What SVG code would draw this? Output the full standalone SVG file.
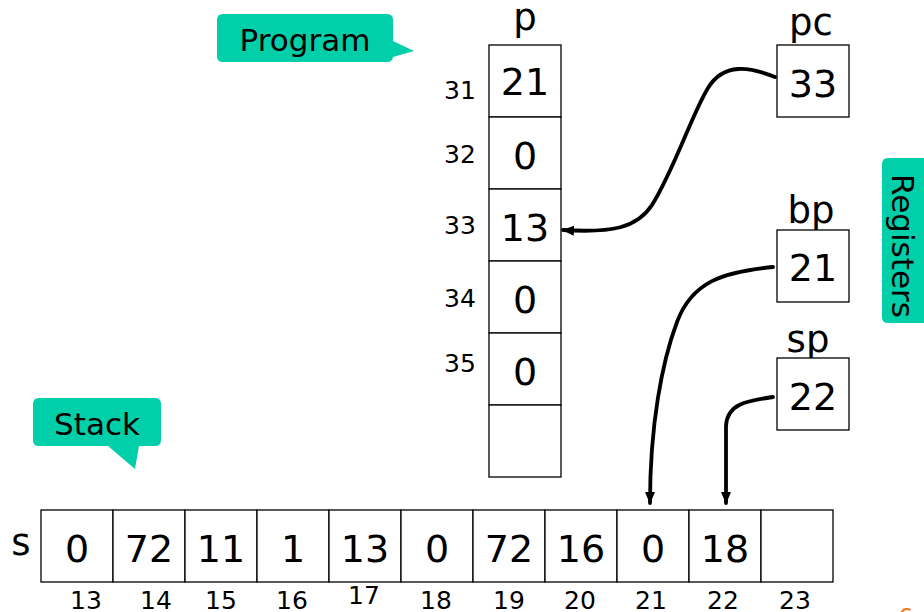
<svg xmlns="http://www.w3.org/2000/svg" width="924" height="612" viewBox="0 0 924 612">
  <style>
    text { font-family: "DejaVu Sans", Verdana, sans-serif; fill: #000; }
    .cell { fill: #fff; stroke: #000; stroke-width: 1.3; }
    .val { font-size: 38px; text-anchor: middle; }
    .name { font-size: 37px; text-anchor: middle; }
    .idx { font-size: 25px; text-anchor: middle; }
    .callout { fill: #00CFA9; }
    .ctext { font-size: 31px; text-anchor: middle; }
    .wire { fill: none; stroke: #000; stroke-width: 3.8; stroke-linecap: round; }
  </style>
  <defs>
    <marker id="head" viewBox="0 0 12 10" refX="11" refY="5" markerWidth="12" markerHeight="10" markerUnits="userSpaceOnUse" orient="auto">
      <path d="M0,0 L12,5 L0,10 Z" fill="#000"/>
    </marker>
  </defs>
  <rect width="924" height="612" fill="#fff"/>

  <!-- callouts -->
  <g id="program-callout">
    <path class="callout" d="M223,14 H387 Q393,14 393,20 V41 L414,51 L393,57 V56 Q393,62 387,62 H223 Q217,62 217,56 V20 Q217,14 223,14 Z"/>
    <text class="ctext" x="305" y="51">Program</text>
  </g>
  <g id="stack-callout">
    <path class="callout" d="M39,398 H155 Q161,398 161,404 V440 Q161,446 155,446 H139 L135,469 L108,446 H39 Q33,446 33,440 V404 Q33,398 39,398 Z"/>
    <text class="ctext" x="97" y="435">Stack</text>
  </g>
  <g id="registers-callout">
    <path class="callout" d="M888,158 H930 V323 H888 Q882,323 882,317 V164 Q882,158 888,158 Z"/>
    <text class="ctext" transform="translate(892,246) rotate(90)" x="0" y="0">Registers</text>
  </g>

  <!-- program memory p -->
  <g id="program-memory">
    <text class="name" x="525" y="30">p</text>
    <rect class="cell" x="489" y="45" width="72" height="72"/>
    <rect class="cell" x="489" y="117" width="72" height="72"/>
    <rect class="cell" x="489" y="189" width="72" height="72"/>
    <rect class="cell" x="489" y="261" width="72" height="72"/>
    <rect class="cell" x="489" y="333" width="72" height="72"/>
    <rect class="cell" x="489" y="405" width="72" height="72"/>
    <text class="val" x="525" y="95">21</text>
    <text class="val" x="525" y="169">0</text>
    <text class="val" x="525" y="241">13</text>
    <text class="val" x="525" y="313">0</text>
    <text class="val" x="525" y="385">0</text>
    <text class="idx" x="460" y="99">31</text>
    <text class="idx" x="460" y="163">32</text>
    <text class="idx" x="460" y="234">33</text>
    <text class="idx" x="460" y="307">34</text>
    <text class="idx" x="460" y="372">35</text>
  </g>

  <!-- registers -->
  <g id="reg-pc">
    <text class="name" x="811" y="35">pc</text>
    <rect class="cell" x="777" y="45" width="72" height="72"/>
    <text class="val" x="813" y="97">33</text>
  </g>
  <g id="reg-bp">
    <text class="name" x="811" y="223">bp</text>
    <rect class="cell" x="777" y="230" width="72" height="72"/>
    <text class="val" x="813" y="281">21</text>
  </g>
  <g id="reg-sp">
    <text class="name" x="808" y="352">sp</text>
    <rect class="cell" x="777" y="358" width="72" height="72"/>
    <text class="val" x="813" y="410">22</text>
  </g>

  <!-- stack s -->
  <g id="stack">
    <text class="name" x="21" y="555">s</text>
    <rect class="cell" x="41" y="510" width="72" height="72"/>
    <rect class="cell" x="113" y="510" width="72" height="72"/>
    <rect class="cell" x="185" y="510" width="72" height="72"/>
    <rect class="cell" x="257" y="510" width="72" height="72"/>
    <rect class="cell" x="329" y="510" width="72" height="72"/>
    <rect class="cell" x="401" y="510" width="72" height="72"/>
    <rect class="cell" x="473" y="510" width="72" height="72"/>
    <rect class="cell" x="545" y="510" width="72" height="72"/>
    <rect class="cell" x="617" y="510" width="72" height="72"/>
    <rect class="cell" x="689" y="510" width="72" height="72"/>
    <rect class="cell" x="761" y="510" width="72" height="72"/>
    <text class="val" x="77" y="562">0</text>
    <text class="val" x="149" y="562">72</text>
    <text class="val" x="221" y="562">11</text>
    <text class="val" x="293" y="562">1</text>
    <text class="val" x="365" y="562">13</text>
    <text class="val" x="437" y="562">0</text>
    <text class="val" x="509" y="562">72</text>
    <text class="val" x="581" y="562">16</text>
    <text class="val" x="653" y="562">0</text>
    <text class="val" x="725" y="562">18</text>
    <text class="idx" x="86" y="609">13</text>
    <text class="idx" x="156" y="609">14</text>
    <text class="idx" x="221" y="609">15</text>
    <text class="idx" x="292" y="609">16</text>
    <text class="idx" x="364" y="604">17</text>
    <text class="idx" x="436" y="609">18</text>
    <text class="idx" x="509" y="609">19</text>
    <text class="idx" x="580" y="609">20</text>
    <text class="idx" x="651" y="609">21</text>
    <text class="idx" x="723" y="609">22</text>
    <text class="idx" x="795" y="609">23</text>
  </g>

  <!-- pointer connectors -->
  <g id="connectors">
    <path class="wire" marker-end="url(#head)" d="M775,77 C750,67 724,62 708,88 C692,114 674,170 652,205 C637,228 612,233 563,230"/>
    <path class="wire" marker-end="url(#head)" d="M773,267 C722,272 692,282 677,322 C662,362 650,425 650,503"/>
    <path class="wire" marker-end="url(#head)" d="M773,397 C746,401 727,404 726,426 L726,503"/>
  </g>

  <!-- page number peeking in at the lower edge -->
  <text x="898" y="626" style="font-size:24px; fill:#F07A1A;">6</text>
</svg>
